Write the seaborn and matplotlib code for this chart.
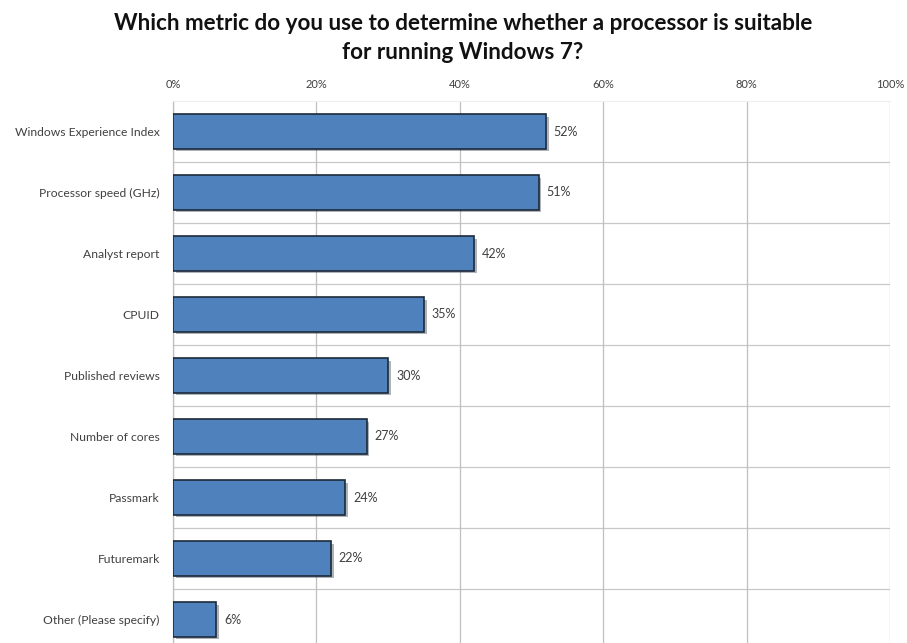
import matplotlib
matplotlib.use("Agg")
import matplotlib.pyplot as plt
import matplotlib.patheffects as pe
import seaborn as sns
import pandas as pd
import numpy as np

categories = ["Windows Experience Index", "Processor speed (GHz)", "Analyst report",
              "CPUID", "Published reviews", "Number of cores", "Passmark",
              "Futuremark", "Other (Please specify)"]
values = [52, 51, 42, 35, 30, 27, 24, 22, 6]
xticks = [0, 20, 40, 60, 80, 100]
title = "Which metric do you use to determine whether a processor is suitable\nfor running Windows 7?"

df = pd.DataFrame({"metric": categories, "pct": values})

sns.set_style("white")
plt.rcParams["font.family"] = ["Lato", "DejaVu Sans"]

fig = plt.figure(figsize=(9.07, 6.43), dpi=100)
ax = fig.add_axes([173/907, -7/643, 717/907, 549/643])

sns.barplot(data=df, x="pct", y="metric", orient="h", color="#4F81BD",
            saturation=1, width=0.56, edgecolor="#1c2a3a", linewidth=1.2, ax=ax, zorder=3)

for p in ax.patches:
    p.set_path_effects([pe.SimplePatchShadow(offset=(2, -2), alpha=0.35), pe.Normal()])

for i, v in enumerate(values):
    ax.text(v + 1.1, i, f"{v}%", va="center", ha="left", fontsize=9, color="#404040")

ax.set_xlim(0, 100)
ax.set_ylim(len(categories) - 0.5, -0.5)
ax.set_xticks(xticks)
ax.set_xticklabels([f"{t}%" for t in xticks])
ax.xaxis.tick_top()
ax.xaxis.set_label_position("top")
ax.tick_params(axis="x", length=0, pad=8, labelsize=8, labelcolor="#404040")
ax.grid(axis="x", color="#bfbfbf", linewidth=0.9, zorder=0)

bounds = np.arange(0.5, len(categories) - 0.5, 1.0)
ax.set_yticks(bounds, minor=True)
ax.tick_params(axis="y", which="minor", length=5, color="#bfbfbf", width=0.9, direction="out")
ax.tick_params(axis="y", which="major", length=0, pad=9.5, labelsize=8.7, labelcolor="#404040")
for b in bounds:
    ax.axhline(b, color="#c8c8c8", linewidth=0.9, zorder=0)

ax.set_xlabel("")
ax.set_ylabel("")
for side in ["right", "bottom"]:
    ax.spines[side].set_visible(False)
ax.spines["top"].set_color("#eeeeee")
ax.spines["left"].set_color("#bfbfbf")
ax.spines["left"].set_linewidth(0.9)

fig.text(463/907, 1 - 38/643, title, ha="center", va="center", fontsize=16.2,
         fontweight="bold", color="#111111", linespacing=1.45)

fig.savefig("out.png", dpi=100)
